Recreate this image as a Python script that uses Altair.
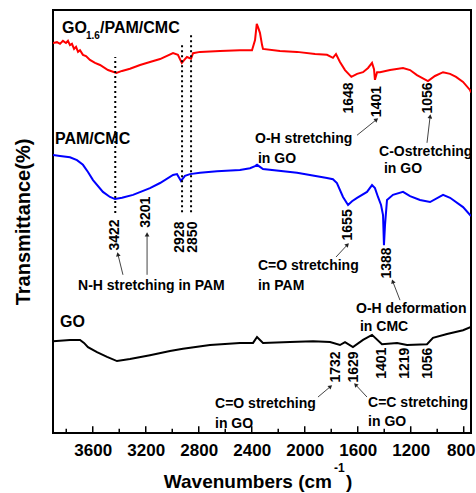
import math
import altair as alt
import pandas as pd

FONT = "Liberation Sans"

# ---- spectra (wavenumber, transmittance in arbitrary offset units) ----
red_wn = [3900,3870,3847,3825,3802,3787,3772,3757,3741,3726,3711,3696,3674,3651,3621,3583,3545,3485,3422,3379,
          3319,3243,3168,3092,2994,2957,2928,2904,2889,2858,2843,2790,2639,2489,2398,2375,2362,2350,2338,2322,
          2315,2187,2058,1922,1832,1787,1764,1734,1696,1648,1605,1560,1522,1492,1477,1470,1454,1432,1356,1258,
          1205,1153,1070,1017,956,903,858,805,753,745]
red_t = [92.2,92.4,92.0,92.7,92.2,92.7,91.7,92.0,90.8,91.3,90.1,90.5,89.4,89.1,88.2,87.5,87.0,85.8,85.1,85.6,
         86.1,87.0,87.7,88.4,89.8,89.4,87.5,88.4,88.9,88.5,89.8,90.1,90.3,90.5,90.5,92.9,96.7,95.7,94.6,91.7,
         90.8,90.3,90.1,89.6,89.4,88.7,89.6,87.7,85.8,84.2,84.9,85.3,86.3,87.5,86.0,83.5,85.3,85.3,85.8,86.3,
         85.8,84.6,83.2,84.4,85.3,84.9,84.2,83.0,81.1,80.5]

blue_wn = [3900,3847,3772,3719,3674,3636,3598,3523,3470,3432,3379,3296,3168,3092,2994,2964,2934,2904,2866,2790,
           2662,2489,2413,2375,2360,2338,2315,2058,1832,1787,1757,1711,1673,1643,1605,1530,1492,1470,1447,1424,
           1409,1402,1394,1379,1334,1258,1205,1130,1054,956,903,805,745]
blue_t = [65.7,65.5,65.2,64.5,63.4,61.7,59.8,57.0,55.8,55.3,55.6,56.3,57.9,59.1,61.0,61.2,59.6,60.8,61.2,61.5,
          61.9,62.2,62.6,63.1,63.4,62.9,62.4,61.5,60.3,60.0,59.1,55.8,53.9,54.8,55.6,57.0,58.6,57.9,55.8,53.9,
          51.5,44.4,49.2,55.1,56.3,57.0,56.0,55.1,54.6,56.3,55.6,53.4,51.3]

black_wn = [3900,3772,3696,3666,3636,3568,3492,3417,3319,3168,3017,2919,2715,2489,2390,2360,2315,2111,1937,1809,
            1734,1696,1636,1560,1492,1417,1303,1228,1077,1032,926,805,745]
black_t = [21.7,22.0,22.0,21.3,20.3,19.1,18.0,17.0,17.5,18.4,19.4,19.9,20.8,21.3,21.3,22.7,21.3,21.5,21.7,21.5,
           20.8,21.5,20.3,22.0,23.2,21.0,21.3,20.8,21.0,22.5,23.4,24.3,25.1]

series_names = ["GO1.6/PAM/CMC", "PAM/CMC", "GO"]
series_colors = ["#ff0000", "#0000ff", "#000000"]

# ---- dotted guide lines ----
dot_wn = [3430, 2926, 2858]
dot_top = [88.9, 92.2, 94.6]
dot_bot = [52.0, 52.2, 52.2]

# ---- axis ticks ----
major_ticks = [3600, 3200, 2800, 2400, 2000, 1600, 1200, 800]
minor_ticks = [3800, 3400, 3000, 2600, 2200, 1800, 1400, 1000]

# ---- peak labels ----
peak_text = ["3422", "3201", "2928", "2850", "1648", "1401", "1056", "1655", "1388",
             "1732", "1629", "1401", "1219", "1056"]
peak_wn = [3432, 3198, 2941, 2843, 1666, 1454, 1070, 1673, 1379, 1764, 1628, 1417, 1243, 1070]
peak_t = [46.8, 52.2, 46.3, 46.3, 79.2, 78.3, 79.2, 49.2, 40.2, 15.6, 15.6, 16.5, 16.5, 16.5]

# ---- annotation notes ----
note_text = ["O-H stretching", "in GO", "C-Ostretching", "in GO", "N-H stretching in PAM",
             "C=O stretching", "in PAM", "O-H deformation", "in CMC",
             "C=O stretching", "in GO", "C=C stretching", "in GO"]
note_wn = [2375, 2353, 1439, 1402, 3711, 2353, 2353, 1613, 1583, 2677, 2677, 1522, 1522]
note_t = [68.6, 63.8, 65.5, 61.5, 33.8, 38.5, 33.8, 28.4, 24.1, 5.9, 1.2, 6.1, 1.7]

# ---- arrows ----
arrow_wn = [1605, 1077, 3372, 3190, 1764, 1281, 1900, 1530]
arrow_t = [70.4, 68.6, 37.4, 37.4, 41.6, 31.4, 8.5, 8.5]
arrow_wn2 = [1462, 1054, 3409, 3190, 1681, 1334, 1809, 1613]
arrow_t2 = [74.0, 74.7, 42.1, 46.8, 44.4, 35.7, 10.9, 11.3]

# ---- series labels ----
lab_text = ["GO", "/PAM/CMC", "PAM/CMC", "GO"]
lab_wn = [3832, 3545, 3885, 3847]
lab_t = [94.6, 94.6, 68.3, 25.1]
sub_text = ["1.6"]
sub_wn = [3651]
sub_t = [93.1]

# ---- x title pieces ----
xt_text = ["Wavenumbers (cm", ")"]
xt_wn = [1794, 1688]
xt_t = [-13.0, -13.0]
xsup_text = ["-1"]
xsup_wn = [1779]
xsup_t = [-9.2]

W, H = 418, 423
XMIN, XMAX = 745, 3900
YMIN, YMAX = 0, 100

xscale = alt.Scale(domain=[XMIN, XMAX], reverse=True, nice=False, zero=False)
yscale = alt.Scale(domain=[YMIN, YMAX], nice=False, zero=False)

xaxis = alt.Axis(values=major_ticks, ticks=False, domain=False, grid=False, title=None,
                 labelFont=FONT, labelFontSize=17, labelFontWeight="bold", labelColor="black",
                 labelPadding=9, format="d", labelFlush=False,
                 labelOffset={"condition": {"test": "datum.value === 800", "value": -3}, "value": 0})
yaxis = alt.Axis(labels=False, ticks=False, domain=False, grid=False, title="Transmittance(%)",
                 titleFont=FONT, titleFontSize=20, titleFontWeight="bold", titleColor="black",
                 titlePadding=20)

X = alt.X("wn:Q", scale=xscale, axis=xaxis)
Y = alt.Y("T:Q", scale=yscale, axis=yaxis)

rows = []
for name, wns, ts in zip(series_names, [red_wn, blue_wn, black_wn], [red_t, blue_t, black_t]):
    for i, (w, t) in enumerate(zip(wns, ts)):
        rows.append({"series": name, "wn": w, "T": t, "order": i})
spec_df = pd.DataFrame(rows)

lines = alt.Chart(spec_df).mark_line(strokeWidth=2, clip=True).encode(
    x=X, y=Y,
    color=alt.Color("series:N", scale=alt.Scale(domain=series_names, range=series_colors), legend=None),
    order="order:Q",
)

dots_df = pd.DataFrame({"wn": dot_wn, "T": dot_bot, "T2": dot_top})
dots = alt.Chart(dots_df).mark_rule(color="black", strokeWidth=2, strokeDash=[2, 3]).encode(
    x=X, y=Y, y2="T2:Q")

tick_df = pd.DataFrame({"wn": major_ticks + minor_ticks,
                        "T": [0.0] * (len(major_ticks) + len(minor_ticks)),
                        "T2": [1.6] * len(major_ticks) + [1.0] * len(minor_ticks)})
ticks = alt.Chart(tick_df).mark_rule(color="black", strokeWidth=1.5).encode(x=X, y=Y, y2="T2:Q")

peak_df = pd.DataFrame({"wn": peak_wn, "T": peak_t, "label": peak_text})
peaks = alt.Chart(peak_df).mark_text(angle=270, align="center", baseline="middle", font=FONT,
                                     fontSize=14, fontWeight="bold", color="black").encode(
    x=X, y=Y, text="label:N")

note_df = pd.DataFrame({"wn": note_wn, "T": note_t, "label": note_text})
notes = alt.Chart(note_df).mark_text(align="left", baseline="alphabetic", font=FONT,
                                     fontSize=14, fontWeight="bold", color="black").encode(
    x=X, y=Y, text="label:N")

sx = W / (XMAX - XMIN)
sy = H / (YMAX - YMIN)
angles = []
for a, b, c, d in zip(arrow_wn, arrow_t, arrow_wn2, arrow_t2):
    dx = -(c - a) * sx
    dy_up = (d - b) * sy
    angles.append(math.degrees(math.atan2(dx, dy_up)) % 360)

arrow_df = pd.DataFrame({"wn": arrow_wn, "T": arrow_t, "wn2": arrow_wn2, "T2": arrow_t2})
arrows = alt.Chart(arrow_df).mark_rule(color="#444444", strokeWidth=1).encode(
    x=X, y=Y, x2="wn2:Q", y2="T2:Q")
head_df = pd.DataFrame({"wn": arrow_wn2, "T": arrow_t2, "ang": angles})
heads = alt.Chart(head_df).mark_point(shape="triangle", filled=True, size=22, color="#222222",
                                      opacity=1).encode(
    x=X, y=Y, angle=alt.Angle("ang:Q", scale=None))

lab_df = pd.DataFrame({"wn": lab_wn, "T": lab_t, "label": lab_text})
labs = alt.Chart(lab_df).mark_text(align="left", baseline="alphabetic", font=FONT,
                                   fontSize=16, fontWeight="bold", color="black").encode(
    x=X, y=Y, text="label:N")
sub_df = pd.DataFrame({"wn": sub_wn, "T": sub_t, "label": sub_text})
subs = alt.Chart(sub_df).mark_text(align="left", baseline="alphabetic", font=FONT,
                                   fontSize=10, fontWeight="bold", color="black").encode(
    x=X, y=Y, text="label:N")

xt_df = pd.DataFrame({"wn": xt_wn, "T": xt_t, "label": xt_text})
xt_right = alt.Chart(xt_df.iloc[[0]]).mark_text(align="right", baseline="alphabetic", font=FONT,
                                                fontSize=19, fontWeight="bold", color="black").encode(
    x=X, y=Y, text="label:N")
xt_left = alt.Chart(xt_df.iloc[[1]]).mark_text(align="left", baseline="alphabetic", font=FONT,
                                               fontSize=19, fontWeight="bold", color="black").encode(
    x=X, y=Y, text="label:N")
xsup_df = pd.DataFrame({"wn": xsup_wn, "T": xsup_t, "label": xsup_text})
xsup = alt.Chart(xsup_df).mark_text(align="left", baseline="alphabetic", font=FONT,
                                    fontSize=12, fontWeight="bold", color="black").encode(
    x=X, y=Y, text="label:N")

chart = alt.layer(lines, dots, ticks, peaks, notes, arrows, heads, labs, subs,
                  xt_right, xt_left, xsup).properties(
    width=W, height=H,
    autosize=alt.AutoSizeParams(type="none"),
    padding={"left": 53, "top": 10, "right": 5, "bottom": 60},
    background="white",
).configure_view(stroke="black", strokeWidth=2)

chart.save("out.html", embed_options={"renderer": "svg", "actions": False})
